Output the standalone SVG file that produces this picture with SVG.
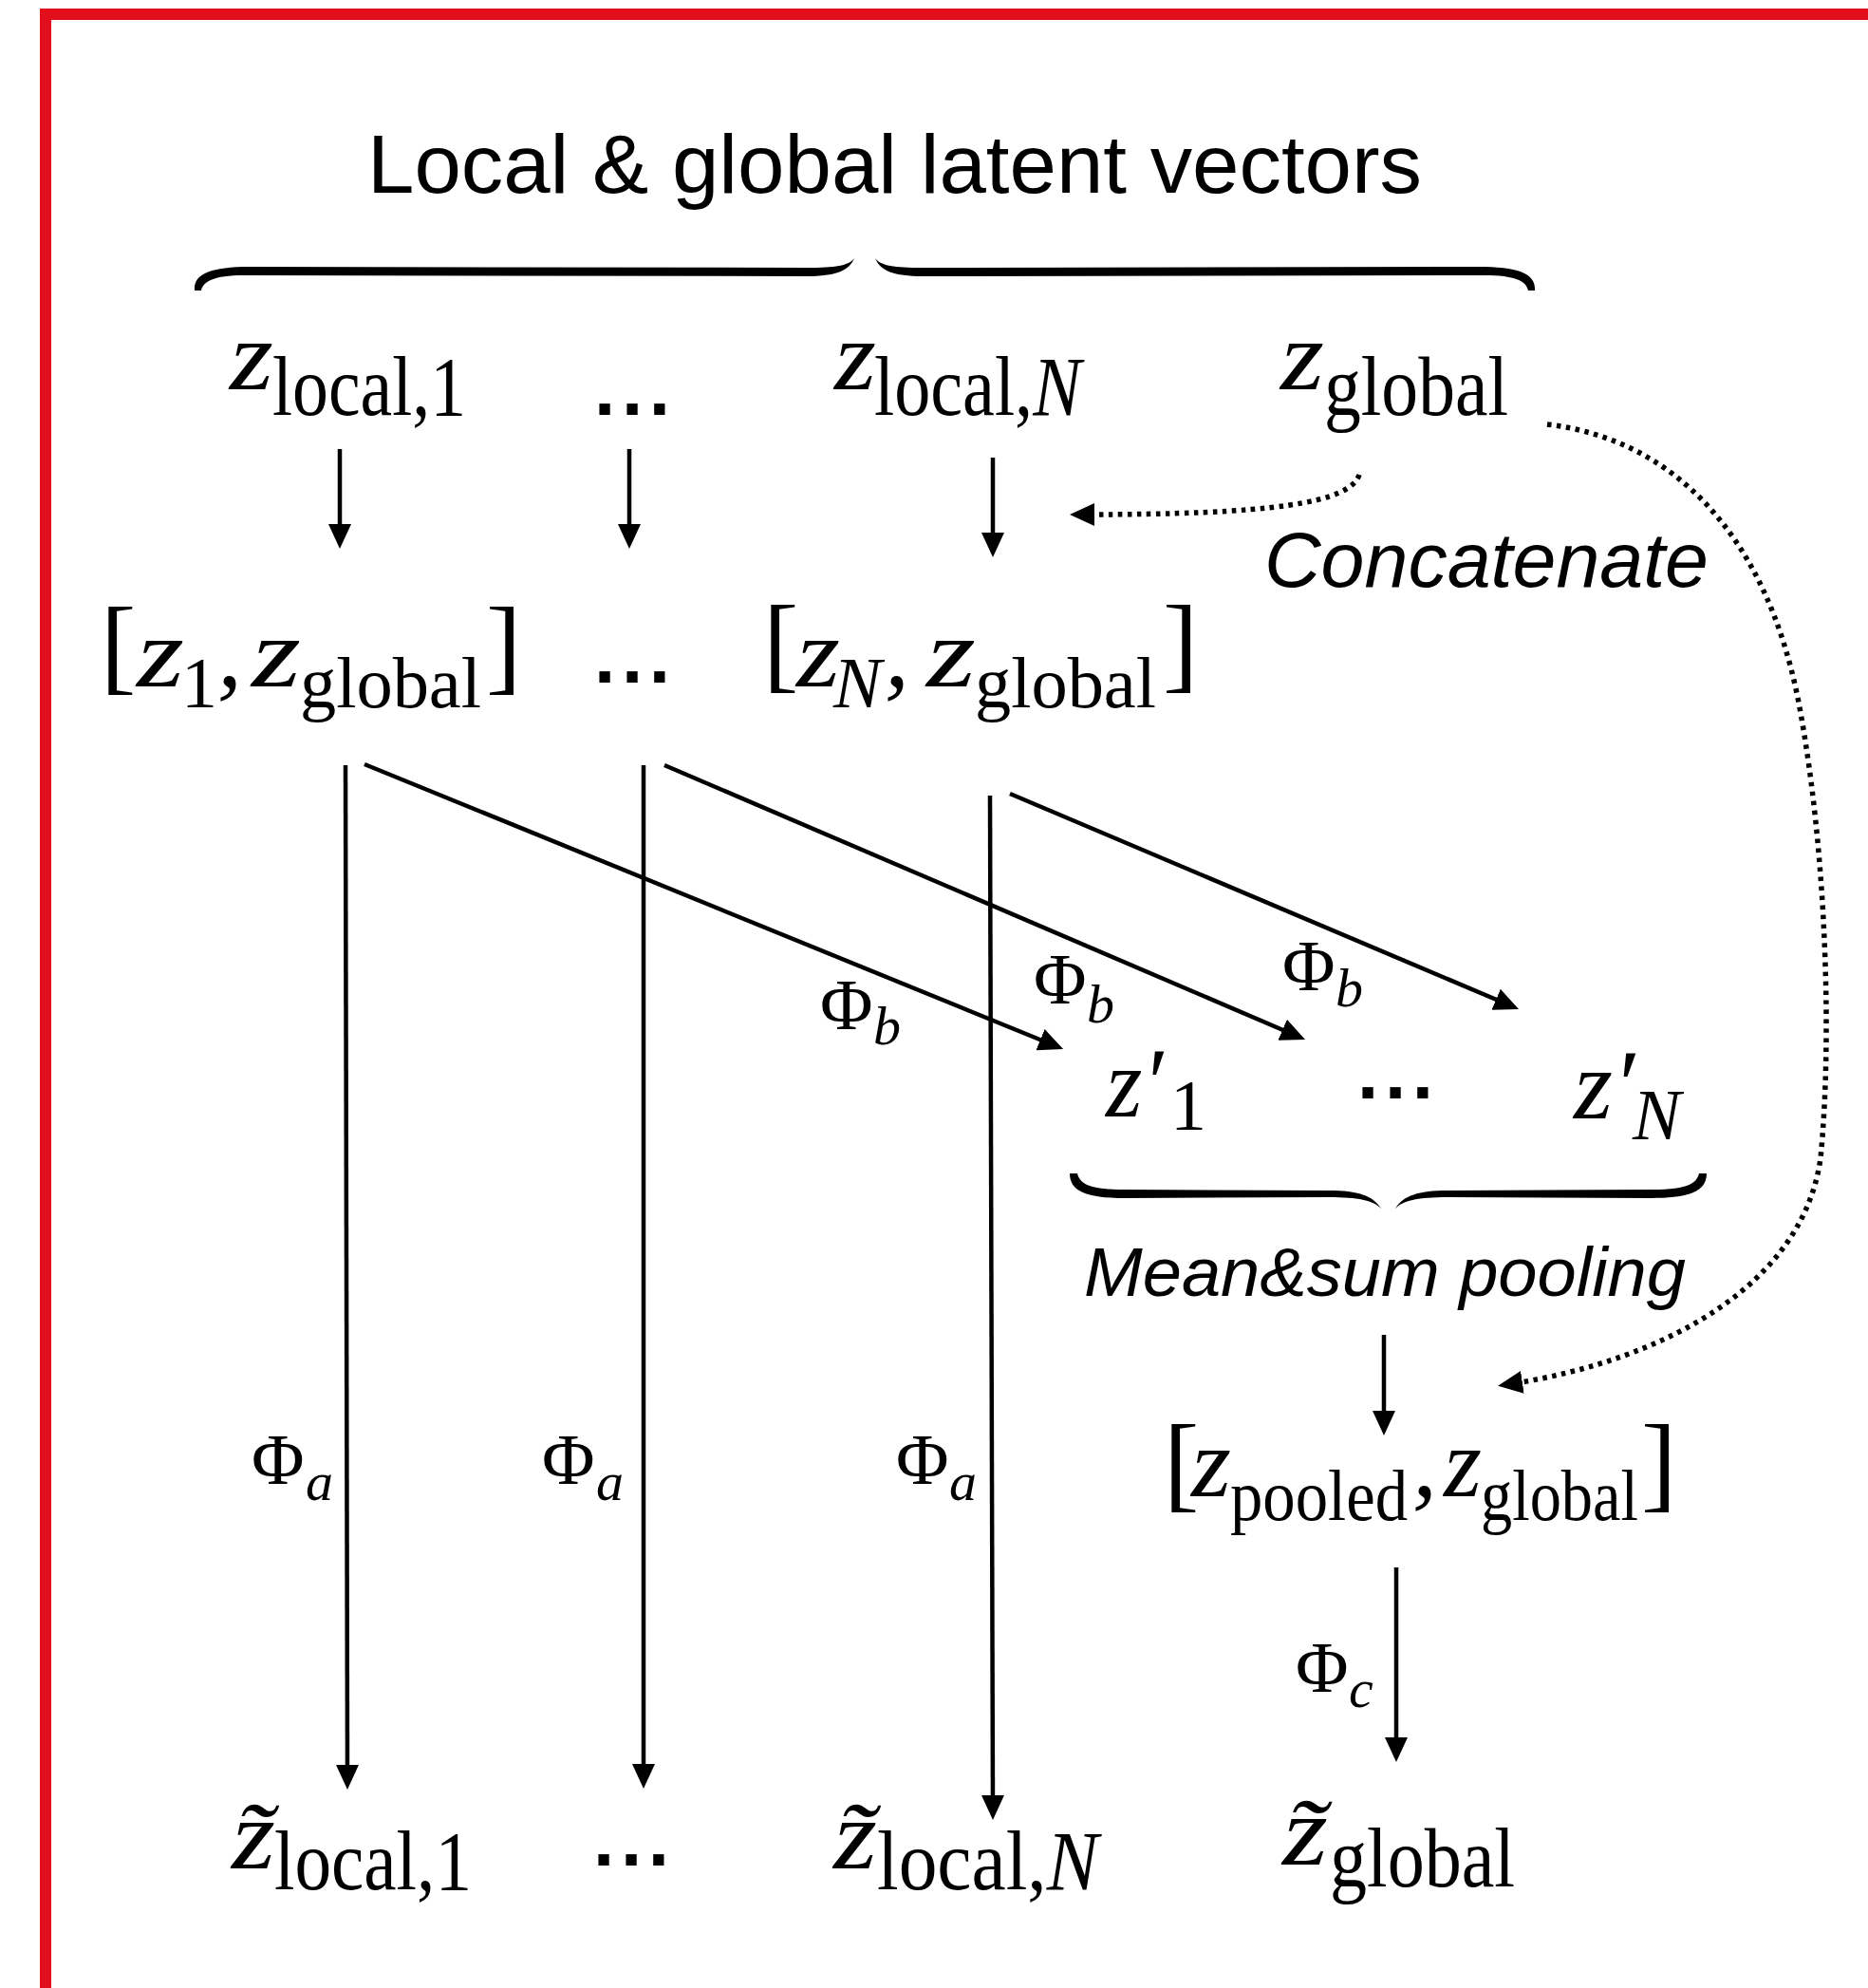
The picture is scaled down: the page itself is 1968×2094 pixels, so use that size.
<svg xmlns="http://www.w3.org/2000/svg" width="1968" height="2094" viewBox="0 0 1968 2094">
<style>
.mi{font-family:"Liberation Serif",serif;font-style:italic;font-size:104px;fill:#000}
.br{font-family:"Liberation Serif",serif;font-size:112px;fill:#000}
.sub{font-family:"Liberation Serif",serif;font-size:88px;fill:#000}
.sub2{font-family:"Liberation Serif",serif;font-size:76px;fill:#000}
.it{font-style:italic}
.phi{font-family:"Liberation Serif",serif;font-size:76px;fill:#000}
.ps{font-family:"Liberation Serif",serif;font-style:italic;font-size:58px;fill:#000}
.dots{font-family:"Liberation Sans",sans-serif;font-weight:bold;font-size:80px;fill:#000}
.lab{font-family:"Liberation Sans",sans-serif;font-style:italic;fill:#000}
.ttl{font-family:"Liberation Sans",sans-serif;font-size:88px;fill:#000}
.ln{fill:none;stroke:#000;stroke-width:4.5}
.dt{fill:none;stroke:#000;stroke-width:5.5;stroke-dasharray:4.5 5.5}
.brace{fill:#000}
</style>
<defs>
<marker id="ah" markerUnits="userSpaceOnUse" markerWidth="26" markerHeight="24" refX="14" refY="12" orient="auto">
<path d="M0,0 L26,12 L0,24 z" fill="#000"/>
</marker>
</defs>
<rect x="48" y="15" width="1940" height="2085" fill="none" stroke="#E30E1B" stroke-width="12"/>

<g id="title"><text class="ttl" x="387" y="203" textLength="1111" lengthAdjust="spacingAndGlyphs">Local &amp; global latent vectors</text></g>
<g id="brace-top" class="brace">
<path d="M205,306 C204,291 216,282 258,281 L850,282 C880,282 894,280 900,272 C895,285 880,291 850,291 L258,290 C226,290 214,296 212,306 Z"/>
<path d="M1617,306 C1618,291 1606,282 1564,281 L972,282 C942,282 928,280 922,272 C927,285 942,291 972,291 L1564,290 C1596,290 1608,296 1610,306 Z"/>
</g>

<g id="z-local-1"><text class="mi" x="242" y="410" textLength="46" lengthAdjust="spacingAndGlyphs">z</text><text class="sub" x="287" y="437" textLength="204" lengthAdjust="spacingAndGlyphs">local,1</text></g>
<g id="dots-1"><text class="dots" x="626" y="437" textLength="80" lengthAdjust="spacing">...</text></g>
<g id="z-local-N"><text class="mi" x="879" y="410" textLength="44" lengthAdjust="spacingAndGlyphs">z</text><text class="sub" x="921" y="437" textLength="218" lengthAdjust="spacingAndGlyphs">local,<tspan class="it">N</tspan></text></g>
<g id="z-global"><text class="mi" x="1349" y="410" textLength="46" lengthAdjust="spacingAndGlyphs">z</text><text class="sub" x="1395" y="437" textLength="194" lengthAdjust="spacingAndGlyphs">global</text></g>

<g id="cat-1">
<text class="br" x="106" y="717">[</text>
<text class="mi" x="144" y="723" textLength="50" lengthAdjust="spacingAndGlyphs">z</text>
<text class="sub2" x="191" y="745">1</text>
<text class="mi" x="229" y="723" font-style="normal">,</text>
<text class="mi" x="265" y="723" textLength="52" lengthAdjust="spacingAndGlyphs">z</text>
<text class="sub2" x="316" y="745" textLength="191" lengthAdjust="spacingAndGlyphs">global</text>
<text class="br" x="512" y="717">]</text>
</g>
<g id="dots-2"><text class="dots" x="626" y="719" textLength="80" lengthAdjust="spacing">...</text></g>
<g id="cat-N">
<text class="br" x="804" y="715">[</text>
<text class="mi" x="839" y="723" textLength="46" lengthAdjust="spacingAndGlyphs">z</text>
<text class="sub2 it" x="878" y="745">N</text>
<text class="mi" x="932" y="723" font-style="normal">,</text>
<text class="mi" x="976" y="723" textLength="52" lengthAdjust="spacingAndGlyphs">z</text>
<text class="sub2" x="1027" y="745" textLength="191" lengthAdjust="spacingAndGlyphs">global</text>
<text class="br" x="1225" y="715">]</text>
</g>
<g id="concatenate-label"><text class="lab" x="1332" y="618" font-size="82" textLength="468" lengthAdjust="spacingAndGlyphs">Concatenate</text></g>

<g id="z-prime-1">
<text class="mi" x="1165" y="1176" textLength="60" lengthAdjust="spacingAndGlyphs">z′</text>
<text class="sub2" x="1233" y="1190" font-size="70">1</text>
</g>
<g id="dots-3"><text class="dots" x="1430" y="1157" textLength="80" lengthAdjust="spacing">...</text></g>
<g id="z-prime-N">
<text class="mi" x="1658" y="1178" textLength="64" lengthAdjust="spacingAndGlyphs">z′</text>
<text class="sub2 it" x="1720" y="1200" font-size="80">N</text>
</g>
<g id="brace-bottom" class="brace">
<path d="M1127,1236 C1127,1254 1143,1262 1185,1262 L1400,1261 C1432,1261 1448,1265 1455,1273 C1447,1260 1432,1254 1400,1254 L1185,1253 C1150,1253 1138,1248 1135,1236 Z"/>
<path d="M1798,1236 C1798,1254 1782,1262 1740,1262 L1525,1261 C1493,1261 1477,1265 1470,1273 C1478,1260 1493,1254 1525,1254 L1740,1253 C1775,1253 1787,1248 1790,1236 Z"/>
</g>
<g id="pooling-label"><text class="lab" x="1142" y="1365" font-size="73" textLength="634" lengthAdjust="spacingAndGlyphs">Mean&amp;sum pooling</text></g>

<g id="pooled">
<text class="br" x="1226" y="1578" font-size="97">[</text>
<text class="mi" x="1255" y="1576" font-size="88" textLength="42" lengthAdjust="spacingAndGlyphs">z</text>
<text class="sub2" x="1296" y="1601" font-size="70" textLength="187" lengthAdjust="spacingAndGlyphs">pooled</text>
<text class="mi" x="1488" y="1576" font-size="88" font-style="normal">,</text>
<text class="mi" x="1521" y="1576" font-size="88" textLength="40" lengthAdjust="spacingAndGlyphs">z</text>
<text class="sub2" x="1560" y="1601" font-size="70" textLength="166" lengthAdjust="spacingAndGlyphs">global</text>
<text class="br" x="1729" y="1578" font-size="97">]</text>
</g>

<g id="zt-local-1">
<text class="mi" x="244" y="1968" textLength="46" lengthAdjust="spacingAndGlyphs">z̃</text>
<text class="sub" x="289" y="1990" textLength="208" lengthAdjust="spacingAndGlyphs">local,1</text>
</g>
<g id="dots-4"><text class="dots" x="625" y="1965" textLength="80" lengthAdjust="spacing">...</text></g>
<g id="zt-local-N">
<text class="mi" x="878" y="1968" textLength="46" lengthAdjust="spacingAndGlyphs">z̃</text>
<text class="sub" x="924" y="1990" textLength="233" lengthAdjust="spacingAndGlyphs">local,<tspan class="it">N</tspan></text>
</g>
<g id="zt-global">
<text class="mi" x="1351" y="1964" textLength="48" lengthAdjust="spacingAndGlyphs">z̃</text>
<text class="sub" x="1401" y="1987" textLength="195" lengthAdjust="spacingAndGlyphs">global</text>
</g>

<g id="connectors">
<line class="ln" x1="358" y1="473" x2="358" y2="566" marker-end="url(#ah)"/>
<line class="ln" x1="663" y1="473" x2="663" y2="566" marker-end="url(#ah)"/>
<line class="ln" x1="1046" y1="482" x2="1046" y2="575" marker-end="url(#ah)"/>
<path class="dt" d="M1432,500 C1422,530 1340,542 1139,542" marker-end="url(#ah)"/>
<path class="dt" d="M1630,447 C1760,462 1860,560 1895,740 C1925,900 1930,1100 1918,1220 C1900,1350 1760,1432 1590,1458" marker-end="url(#ah)"/>
<line class="ln" x1="364" y1="806" x2="366" y2="1873" marker-end="url(#ah)"/>
<line class="ln" x1="678" y1="806" x2="678" y2="1872" marker-end="url(#ah)"/>
<line class="ln" x1="1043" y1="838" x2="1046" y2="1905" marker-end="url(#ah)"/>
<line class="ln" x1="384" y1="805" x2="1109" y2="1100.5" marker-end="url(#ah)"/>
<line class="ln" x1="700" y1="806" x2="1364" y2="1090.3" marker-end="url(#ah)"/>
<line class="ln" x1="1064" y1="836" x2="1589" y2="1058.3" marker-end="url(#ah)"/>
<line class="ln" x1="1458" y1="1406" x2="1458" y2="1500" marker-end="url(#ah)"/>
<line class="ln" x1="1471" y1="1651" x2="1471" y2="1844" marker-end="url(#ah)"/>
</g>

<g id="connector-labels">
<text class="phi" x="265" y="1563">Φ</text><text class="ps" x="322" y="1580">a</text>
<text class="phi" x="571" y="1563">Φ</text><text class="ps" x="628" y="1580">a</text>
<text class="phi" x="944" y="1563">Φ</text><text class="ps" x="1000" y="1580">a</text>
<text class="phi" x="864" y="1084">Φ</text><text class="ps" x="920" y="1100">b</text>
<text class="phi" x="1089" y="1057">Φ</text><text class="ps" x="1145" y="1077">b</text>
<text class="phi" x="1351" y="1043">Φ</text><text class="ps" x="1407" y="1060">b</text>
<text class="phi" x="1365" y="1782">Φ</text><text class="ps" x="1421" y="1798">c</text>
</g>
</svg>
